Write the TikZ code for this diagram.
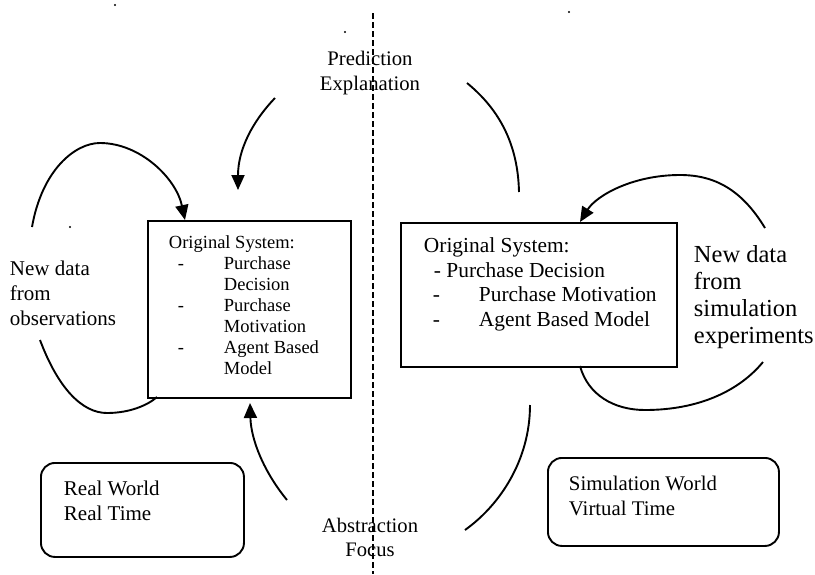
\documentclass[tikz,border=0pt]{standalone}
\usepackage{fontspec}
\setmainfont{Liberation Serif}
\usetikzlibrary{arrows.meta}
\begin{document}
\begin{tikzpicture}[x=1pt,y=-1pt,
  line width=1.9pt,
  sysbox/.style={draw, rectangle, line width=1.9pt, inner sep=0pt, anchor=north west},
  worldbox/.style={draw, rectangle, line width=1.9pt, rounded corners=14pt, inner sep=0pt, anchor=north west},
  txt/.style={inner sep=0pt, align=left, anchor=north west},
  ctxt/.style={inner sep=0pt, align=center, anchor=north},
  conn/.style={line width=1.9pt},
  arr/.style={conn, -{Triangle[length=15pt,width=13pt]}},
  divider/.style={line width=1.8pt, dash pattern=on 6pt off 3pt}
]
\useasboundingbox (0,0) rectangle (815,574);

% the two system boxes
\node[sysbox, minimum width=203pt, minimum height=177pt] (lsys) at (147,220) {};
\node[sysbox, minimum width=276pt, minimum height=144pt] (rsys) at (400,222) {};

% world boxes
\node[worldbox, minimum width=203pt, minimum height=94pt] (real) at (40,462) {};
\node[worldbox, minimum width=231pt, minimum height=88pt] (sim) at (547,457) {};

% divider between the two worlds
\coordinate (dtop) at (373,13);
\coordinate (dbot) at (373,574);
\draw[divider] (dtop) -- (dbot);

% box contents
\node[txt, font={\fontsize{18.5}{21}\selectfont}] (lsystxt) at (168,235)
  {Original System:\\
   \hspace*{9pt}\makebox[46pt][l]{-}Purchase\\
   \hspace*{55pt}Decision\\
   \hspace*{9pt}\makebox[46pt][l]{-}Purchase\\
   \hspace*{55pt}Motivation\\
   \hspace*{9pt}\makebox[46pt][l]{-}Agent Based\\
   \hspace*{55pt}Model};
\node[txt, font={\fontsize{21.4}{24.5}\selectfont}] (rsystxt) at (423,237)
  {Original System:\\
   \hspace*{10pt}- Purchase Decision\\
   \hspace*{9pt}\makebox[46pt][l]{-}Purchase Motivation\\
   \hspace*{9pt}\makebox[46pt][l]{-}Agent Based Model};

\node[txt, font={\fontsize{21}{25}\selectfont}] (realtxt) at (63,480) {Real World\\Real Time};
\node[txt, font={\fontsize{20.8}{25}\selectfont}] (simtxt) at (568,475.5) {Simulation World\\Virtual Time};

% loop labels
\node[txt, font={\fontsize{21}{25}\selectfont}] (obs) at (9,259.5) {New data\\from\\observations};
\node[txt, font={\fontsize{24.5}{27}\selectfont}] (exp) at (693,245) {New data\\from\\simulation\\experiments};

% transition labels on the divider
\node[ctxt, font={\fontsize{20.7}{25}\selectfont}] (pred) at (370,50) {Prediction\\Explanation};
\node[ctxt, font={\fontsize{20.6}{24}\selectfont}] (abst) at (370,517) {Abstraction\\Focus};

% connector end points
\coordinate (p1s) at (275,98);   \coordinate (p1e) at (238,190);
\coordinate (p2s) at (467,83);   \coordinate (p2e) at (519,192);
\coordinate (a1s) at (287,500);  \coordinate (a1e) at (250,403);
\coordinate (a2s) at (530,405);  \coordinate (a2e) at (465,530);
\coordinate (o1s) at (32,227);   \coordinate (o1e) at (185,220);
\coordinate (o2s) at (40,340);   \coordinate (o2e) at (157,397);
\coordinate (e1s) at (765,228);  \coordinate (e1e) at (580,222);
\coordinate (e2s) at (580,366);  \coordinate (e2e) at (763,362);

% prediction / explanation arcs
\draw[arr] (p1s) .. controls (252,122) and (238,150) .. (p1e);
\draw[conn] (p2s) .. controls (500,110) and (518,145) .. (p2e);

% abstraction / focus arcs
\draw[arr] (a1s) .. controls (264,472) and (251,440) .. (a1e);
\draw[conn] (a2s) .. controls (530,460) and (500,505) .. (a2e);

% real world data loop
\draw[arr] (o1s) .. controls (42,170) and (75,143) .. (100,143)
                 .. controls (140,143) and (176,178) .. (o1e);
\draw[conn] (o2s) .. controls (58,388) and (82,413) .. (107,413)
                  .. controls (130,413) and (148,405) .. (o2e);

% simulation data loop
\draw[arr] (e1s) .. controls (742,190) and (715,175) .. (680,175)
                 .. controls (632,175) and (596,196) .. (e1e);
\draw[conn] (e2s) .. controls (588,395) and (614,410) .. (645,410)
                  .. controls (700,410) and (740,390) .. (e2e);

% specks
\fill (115,5) circle (1.1pt);
\fill (345,32) circle (1.1pt);
\fill (70,227) circle (1.1pt);
\fill (569,12) circle (1.1pt);
\end{tikzpicture}
\end{document}
